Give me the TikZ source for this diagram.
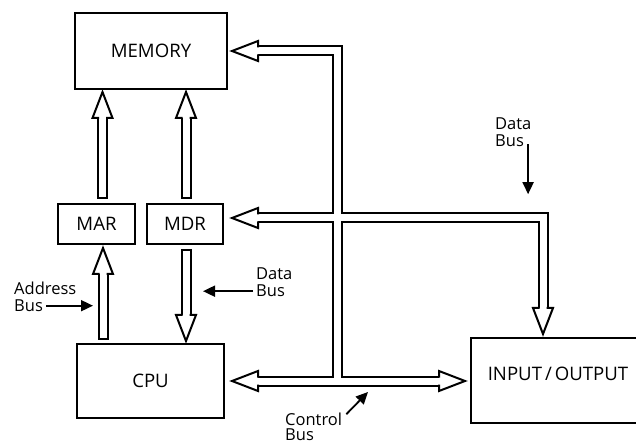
\documentclass[tikz,border=0pt]{standalone}
\usepackage{fontspec}
\setmainfont{Open Sans}
\usetikzlibrary{arrows.meta, positioning, calc}

\begin{document}
\begin{tikzpicture}[
            x=1pt, y=1pt,
            box/.style={draw, line width=2pt, inner sep=0pt, font=\fontsize{18.6}{20}\selectfont},
            lbl/.style={inner sep=0pt, font=\fontsize{16.5}{17}\selectfont},
            busout/.style={line width=11pt, line join=miter},
            busin/.style={line width=7pt, white, line join=miter},
            ptr/.style={line width=1.8pt, -{Triangle[length=12pt, width=11pt]}},
            bushead/.pic={
                \fill[white] (0,0) -- (-26,10.5) -- (-26,-10.5) -- cycle;
                \draw[line width=2pt, line join=miter] (-26,3.5) -- (-26,10) -- (0,0) -- (-26,-10) -- (-26,-3.5);
            }
        ]
        \useasboundingbox (0,0) rectangle (636,444);
        \clip (0,0) rectangle (636,444);
        \fill[white] (0,0) rectangle (636,444);

        % units
        \node[box, minimum width=152pt, minimum height=76pt] (memory) at (151,393) {MEMORY};
        \node[box, minimum width=77pt, minimum height=40pt] (mar) at (96.5,220) {MAR};
        \node[box, minimum width=76pt, minimum height=40pt] (mdr) at (185,220) {MDR};
        \node[box, minimum width=147pt, minimum height=74pt] (cpu) at (150.5,63) {CPU};
        \node[box, minimum width=174pt, text height=42pt, text depth=43pt] (io) at (558,63.5)
            {INPUT\kern3pt/\kern3pt OUTPUT};

        % system bus
        \coordinate (vbus) at (337,0);
        \foreach \s in {busout, busin} {
            \draw[\s] ($(memory.east)+(30,0)$) -| (cpu.east -| vbus);
            \draw[\s] ($(mdr.east)+(34,6)$) -| ($(io.north)+(-15,29)$);
            \draw[\s] ($(cpu.east)+(33,0)$) -- ($(cpu.east -| io.west)+(-31,0)$);
        }
        \pic[rotate=180] at ($(memory.east)+(4,0)$) {bushead};
        \pic[rotate=180] at ($(mdr.east)+(8,6)$) {bushead};
        \pic[rotate=180] at ($(cpu.east)+(7,0)$) {bushead};
        \pic at ($(cpu.east -| io.west)+(-5,0)$) {bushead};
        \pic[rotate=-90] at ($(io.north)+(-15,3)$) {bushead};

        % MAR / MDR links
        \coordinate (t1) at ($(mar.south |- cpu.north)+(6.5,3)$);
        \coordinate (h1) at ($(mar.south)+(6.5,-3)$);
        \coordinate (t2) at ($(mar.north)+(6,4)$);
        \coordinate (h2) at ($(mar.north |- memory.south)+(6,-2)$);
        \coordinate (t3) at ($(mdr.north)+(1,4)$);
        \coordinate (h3) at ($(mdr.north |- memory.south)+(1,-2)$);
        \coordinate (t4) at ($(mdr.south)+(1,-4)$);
        \coordinate (h4) at ($(mdr.south |- cpu.north)+(1,2)$);
        \foreach \t/\h/\a in {t1/h1/90, t2/h2/90, t3/h3/90, t4/h4/-90} {
            \draw[busout] (\t) -- ($(\h)!26pt!(\t)$);
            \draw[busin, shorten <=2pt] (\t) -- ($(\h)!26pt!(\t)$);
            \pic[rotate=\a] at (\h) {bushead};
        }

        % labels
        \node[lbl, anchor=base west] (abus) at (14,132.5) {Bus};
        \node[lbl, anchor=base west] (addr) at ($(abus.base west)+(0,17)$) {Address};
        \coordinate (atip) at ($(t1)+(-10,0)$);
        \draw[ptr] ([xshift=3pt]abus.east) -- (abus.east -| atip);

        \node[lbl, anchor=base west] (dbus) at (256,147) {Bus};
        \node[lbl, anchor=base west] (ddata) at ($(dbus.base west)+(0,17)$) {Data};
        \coordinate (dtip) at ($(h4)+(17,0)$);
        \draw[ptr] ([xshift=-3pt]dbus.west) -- (dbus.west -| dtip);

        \node[lbl, anchor=base west] (rbus) at (495,297) {Bus};
        \node[lbl, anchor=base west] (rdata) at ($(rbus.base west)+(0,17)$) {Data};
        \coordinate (rtip) at ($(rbus.east)+(4,-53)$);
        \draw[ptr] ([xshift=4pt,yshift=-3pt]rbus.east) -- (rtip);

        \node[lbl, anchor=base west] (cctrl) at (285,19) {Control};
        \node[lbl, anchor=base west] (cbus) at ($(cctrl.base west)+(0,-15.5)$) {Bus};
        \coordinate (ctip) at ($(cpu.east)+(143,-11)$);
        \draw[ptr] ($(cctrl.north east)+(4,-2)$) -- (ctip);
    \end{tikzpicture}
\end{document}
